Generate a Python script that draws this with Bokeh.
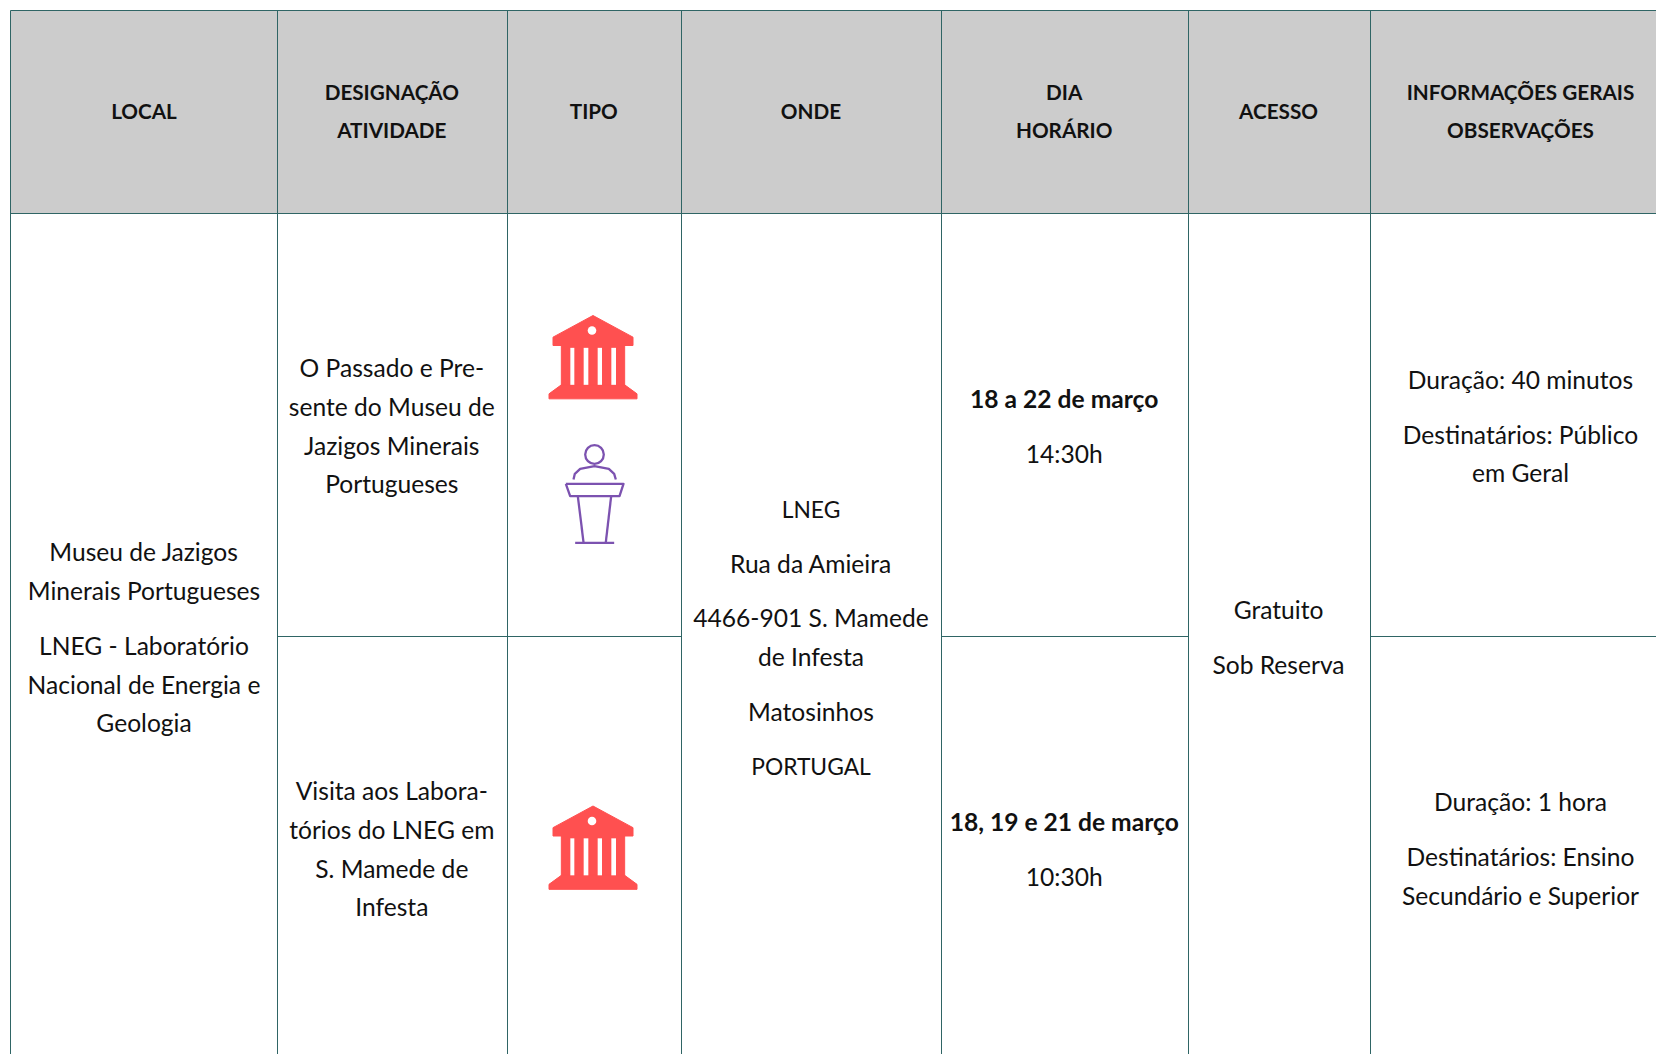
from bokeh.plotting import figure
from bokeh.models import Range1d, ColumnDataSource
from bokeh.core.properties import value
from bokeh.embed import file_html
from bokeh.resources import INLINE

W, H = 1656, 1054
FONT = "Lato"
LINE = "#2F6565"
GREY = "#CCCCCC"
INK = "#111111"
RED = "#FF5050"
PURPLE = "#7C52B0"

col_edges = [10, 277, 507, 681, 941, 1188, 1370]
col_centers = [143.5, 391.3, 593.3, 810.5, 1063.7, 1278, 1520]
header_top, header_bottom, row_split = 10, 213, 636

headers = [
    ("LOCAL", 0, 110.5), ("DESIGNAÇÃO", 1, 91.5), ("ATIVIDADE", 1, 129.5), ("TIPO", 2, 110.5),
    ("ONDE", 3, 110.5), ("DIA", 4, 91.5), ("HORÁRIO", 4, 129.5), ("ACESSO", 5, 110.5),
    ("INFORMAÇÕES GERAIS", 6, 91.5), ("OBSERVAÇÕES", 6, 129.5),
]
body = [
    ("Museu de Jazigos", 0, 551), ("Minerais Portugueses", 0, 590),
    ("LNEG - Laboratório", 0, 645), ("Nacional de Energia e", 0, 684), ("Geologia", 0, 722),
    ("O Passado e Pre-", 1, 366.5), ("sente do Museu de", 1, 405.5),
    ("Jazigos Minerais", 1, 444.5), ("Portugueses", 1, 483),
    ("Visita aos Labora-", 1, 790), ("tórios do LNEG em", 1, 829),
    ("S. Mamede de", 1, 868), ("Infesta", 1, 906),
    ("Rua da Amieira", 3, 563), ("4466-901 S. Mamede", 3, 617),
    ("de Infesta", 3, 656), ("Matosinhos", 3, 711),
    ("14:30h", 4, 453), ("10:30h", 4, 876),
    ("Gratuito", 5, 609), ("Sob Reserva", 5, 664),
    ("Duração: 40 minutos", 6, 379), ("Destinatários: Público", 6, 434), ("em Geral", 6, 472),
    ("Duração: 1 hora", 6, 801), ("Destinatários: Ensino", 6, 856), ("Secundário e Superior", 6, 895),
]
caps_body = [("LNEG", 3, 508), ("PORTUGAL", 3, 765)]
bold_body = [("18 a 22 de março", 4, 398), ("18, 19 e 21 de março", 4, 821)]

p = figure(width=W, height=H, x_range=Range1d(0, W), y_range=Range1d(H, 0),
           toolbar_location=None, output_backend="svg", min_border=0,
           outline_line_color=None, background_fill_color="white")
p.axis.visible = False
p.grid.visible = False

# header band
p.quad(left=[col_edges[0]], right=[W], top=[header_top], bottom=[header_bottom],
       fill_color=GREY, line_color=None)

# rules
x0 = col_edges + [col_edges[0], col_edges[0], col_edges[1], col_edges[4], col_edges[6]]
x1 = col_edges + [W, W, col_edges[3], col_edges[5], W]
y0 = [header_top] * 7 + [header_top, header_bottom, row_split, row_split, row_split]
y1 = [H] * 7 + [header_top, header_bottom, row_split, row_split, row_split]
p.segment(x0, y0, x1, y1, line_color=LINE, line_width=1)

# icons, drawn relative to their anchor
def museum(cx, top):
    def X(v): return [cx + (a - 280) / 3 for a in v]
    def Y(v): return [top + (a - 75) / 3 for a in v]
    xs = [X([280, 400, 400, 160, 160]), X([185, 375, 375, 185]), X([185, 375, 412, 412, 148, 148])]
    ys = [Y([75, 140, 165, 165, 140]), Y([165, 165, 285, 285]), Y([283, 283, 310, 325, 325, 310])]
    p.patches(xs, ys, fill_color=RED, line_color=RED, line_width=1, line_join="round")
    slits = [(212, 224), (252, 266), (294, 307), (335, 349)]
    p.quad(left=X([a for a, _ in slits]), right=X([b for _, b in slits]),
           top=Y([172] * 4), bottom=Y([283] * 4), fill_color="white", line_color=None)
    p.circle(X([277]), Y([120]), radius=4.3, fill_color="white", line_color=None)

def podium(cx, top):
    def X(v): return [cx + (a - 283) / 3 for a in v]
    def Y(v): return [top + (a - 465) / 3 for a in v]
    paths_x = [
        [220, 224, 240, 283, 326, 342, 347],
        [197, 370, 358, 210, 197],
        [233, 250], [333, 317], [225, 342],
    ]
    paths_y = [
        [567, 550, 535, 527, 535, 550, 567],
        [580, 580, 617, 617, 580],
        [617, 755], [617, 755], [757, 757],
    ]
    p.multi_line([X(v) for v in paths_x], [Y(v) for v in paths_y],
                 line_color=PURPLE, line_width=2.3, line_join="round")
    p.circle(X([283]), Y([492]), radius=9.3, fill_color=None, line_color=PURPLE, line_width=2.3)

museum(592.5, 315)
museum(592.5, 805.5)
podium(594, 445)

def put(rows, size, style):
    src = ColumnDataSource(dict(x=[col_centers[c] for _, c, _ in rows],
                                y=[y for _, _, y in rows],
                                t=[t for t, _, _ in rows]))
    p.text("x", "y", text="t", source=src, text_font=value(FONT), text_font_size=size,
           text_font_style=style, text_align="center", text_baseline="middle", text_color=INK)

put(headers, "20.7px", "bold")
put(body, "24.6px", "normal")
put(caps_body, "22.8px", "normal")
put(bold_body, "24.6px", "bold")

open("out.html", "w").write(file_html(p, INLINE))
